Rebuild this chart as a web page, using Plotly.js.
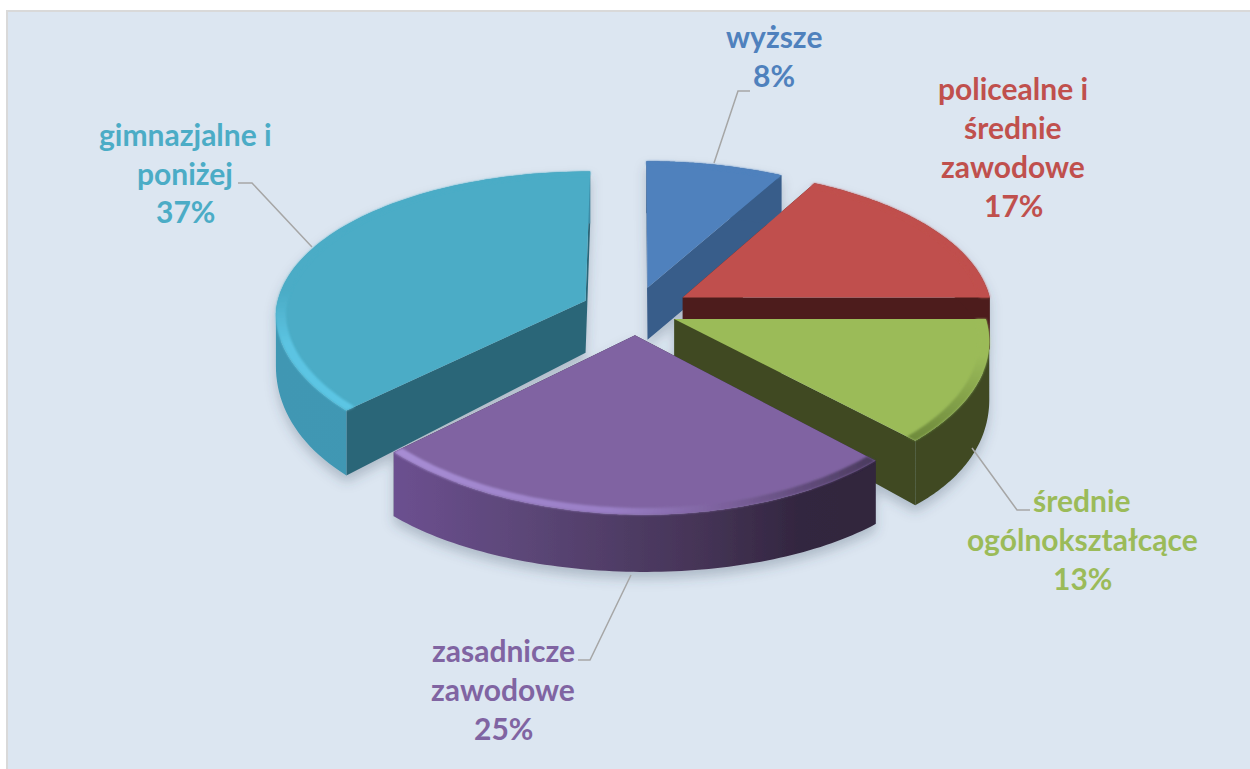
<!DOCTYPE html>
<html>
<head>
<meta charset="utf-8">
<script src="https://cdn.plot.ly/plotly-3.0.1.min.js"></script>
<style>html,body{margin:0;padding:0;background:#fff;overflow:hidden}#chart{width:1250px;height:769px}</style>
</head>
<body>
<div id="chart"></div>
<script>
// ---- data ----
const categories = ['wyższe', 'policealne i średnie zawodowe', 'średnie ogólnokształcące', 'zasadnicze zawodowe', 'gimnazjalne i poniżej'];
const percentages = [8, 17, 13, 25, 37];
const topColors = ['#4f81bd', '#c0504d', '#9bbb59', '#8064a2', '#4bacc6'];
const innerWallColors = ['#385d8a', '#4d1f1e', '#3f4a22', '#32263f', '#2c6678'];
const labelLines = [['wyższe'], ['policealne i', 'średnie', 'zawodowe'], ['średnie', 'ogólnokształcące'], ['zasadnicze', 'zawodowe'], ['gimnazjalne i', 'poniżej']];

// ---- layout settings ----
const W = 1250, H = 769, WORLD_R = 310, RIM = 0.968;
const slicePull = [0.165, 0.18, 0.135, 0.16, 0.175];
const CAM = {cx: 635, a: 311, b: 0.48, c: 0.000424, cx2: 0.000334, shear: 0.031, depth: 52, swell: 0.25, swellSpan: 415};
const labelCentres = [[774, 36, 39], [1013, 88, 39], [1082, 500, 39], [503, 650, 39], [185, 134, 38.5]];
const leaders = [
  [[714,163],[738,91],[750,91]],
  [[972,448],[1017,510],[1030,510]],
  [[631,575],[590,660],[578,660]],
  [[312,247],[252,183],[238,183]]
];
const FONT = 'Lato, "Open Sans", sans-serif', FONT_SIZE = 30;
const fx = x => x / W, fy = y => 1 - y / H;

function pieTrace(colors, hole) {
  return {type: 'pie', values: percentages, labels: categories, sort: false, direction: 'clockwise', rotation: 0,
    pull: slicePull, hole: hole, textinfo: 'none', hoverinfo: 'none', showlegend: false,
    marker: {colors: colors, line: {width: 0}}, domain: {x: [0, 1], y: [0, 1]}};
}
const traces = [pieTrace(innerWallColors, 0), pieTrace(innerWallColors, RIM), pieTrace(topColors, 0), pieTrace(topColors, RIM)];
const traceKinds = ['inner', 'wall', 'top', 'rim'];

const annotations = [];
labelLines.forEach((lines, i) => {
  const c = labelCentres[i];
  lines.concat([percentages[i] + '%']).forEach((t, j) => {
    annotations.push({text: '<b>' + t + '</b>', xref: 'paper', yref: 'paper', x: fx(c[0]), y: fy(c[1] + j * c[2]),
      xanchor: 'center', yanchor: 'middle', showarrow: false, font: {family: FONT, size: FONT_SIZE, color: topColors[i]}});
  });
});

const shapes = [{type: 'rect', xref: 'paper', yref: 'paper', x0: fx(7), x1: 1.01, y0: -0.01, y1: fy(11), fillcolor: '#dce6f1', line: {color: '#d9d9d9', width: 2}, layer: 'below'}];
leaders.forEach(pts => shapes.push({type: 'path', xref: 'paper', yref: 'paper', layer: 'above',
  path: pts.map((p, i) => (i ? 'L' : 'M') + fx(p[0]) + ',' + fy(p[1])).join(' '), line: {color: '#a6a6a6', width: 1.5}}));

const layout = {width: W, height: H, margin: {l: 0, r: 0, t: 0, b: 0, pad: 0}, paper_bgcolor: '#ffffff', showlegend: false, annotations, shapes};

// camera: flat pie plane (X right, Y towards viewer) -> screen; low = point on the lower face of the disc
function camera(X, Y, low) {
  const clampY = Math.min(Math.max(Y, 0), CAM.swellSpan);
  const z = low ? CAM.depth * (1 + CAM.swell * Math.sin(Math.PI * clampY / CAM.swellSpan)) : 0;
  return [CAM.cx + X / (1 - CAM.cx2 * Y) + CAM.shear * Math.max(Y, 0), CAM.a + CAM.b * Y / (1 - CAM.c * Y) + z];
}
const NS = 'http://www.w3.org/2000/svg';
function makeGradient(defs, id, vertical, stops) {
  const g = document.createElementNS(NS, 'linearGradient');
  g.setAttribute('id', id); g.setAttribute('x1', 0); g.setAttribute('y1', 0);
  g.setAttribute('x2', vertical ? 0 : 1); g.setAttribute('y2', vertical ? 1 : 0);
  stops.forEach(([o, c]) => { const s = document.createElementNS(NS, 'stop'); s.setAttribute('offset', o); s.setAttribute('stop-color', c); g.appendChild(s); });
  defs.appendChild(g);
}
const toPath = pts => pts.map((p, i) => (i ? 'L' : 'M') + p[0].toFixed(2) + ' ' + p[1].toFixed(2)).join('') + 'Z';
// same winding for every quad so the union fills under the nonzero rule
function quad(a, b, c, d) {
  const pts = [a, b, c, d];
  let area = 0;
  for (let i = 0; i < 4; i++) { const p = pts[i], q = pts[(i + 1) % 4]; area += p[0] * q[1] - q[0] * p[1]; }
  return toPath(area < 0 ? pts.reverse() : pts);
}

Plotly.newPlot('chart', traces, layout, {staticPlot: true, displayModeBar: false}).then(gd => {
  const layer = gd.querySelector('.pielayer');
  const svg = layer.ownerSVGElement;
  const defs = document.createElementNS(NS, 'defs'); svg.insertBefore(defs, svg.firstChild);
  makeGradient(defs, 'wall3', false, [[0, '#6c5090'], [0.3, '#5a4575'], [0.65, '#443355'], [0.85, '#32263f'], [1, '#30253d']]);
  makeGradient(defs, 'wall4', false, [[0, '#4097b3'], [0.5, '#3f98b4'], [1, '#3c8ca6']]);
  makeGradient(defs, 'rim2', true, [[0, '#9bbb59'], [0.3, '#9bbb59'], [1, '#6e8a3c']]);
  makeGradient(defs, 'rim3', false, [[0, '#a78dd4'], [0.45, '#9a7fc6'], [0.7, '#7a5f9a'], [1, '#4a3a5e']]);
  makeGradient(defs, 'rim4', true, [[0, '#4bacc6'], [0.5, '#4bacc6'], [0.72, '#5cc4e2'], [1, '#5cc6e4']]);
  const f = document.createElementNS(NS, 'filter');
  f.setAttribute('id', 'softShadow'); f.setAttribute('filterUnits', 'userSpaceOnUse');
  f.setAttribute('x', 0); f.setAttribute('y', 0); f.setAttribute('width', W); f.setAttribute('height', H);
  const ds = document.createElementNS(NS, 'feDropShadow');
  ds.setAttribute('dx', 0); ds.setAttribute('dy', 7); ds.setAttribute('stdDeviation', 6); ds.setAttribute('flood-color', '#3c4a60'); ds.setAttribute('flood-opacity', 0.28);
  f.appendChild(ds); defs.appendChild(f);
  const b = document.createElementNS(NS, 'filter');
  b.setAttribute('id', 'rimBlur'); b.setAttribute('filterUnits', 'userSpaceOnUse');
  b.setAttribute('x', 0); b.setAttribute('y', 0); b.setAttribute('width', W); b.setAttribute('height', H);
  const gb = document.createElementNS(NS, 'feGaussianBlur'); gb.setAttribute('stdDeviation', 1.3);
  b.appendChild(gb); defs.appendChild(b);
  layer.setAttribute('filter', 'url(#softShadow)');

  layer.querySelectorAll('g.trace').forEach((g, ti) => {
    const kind = traceKinds[ti], cd = gd.calcdata[ti], r0 = cd[0], k = WORLD_R / r0.r;
    if (kind === 'rim') g.setAttribute('filter', 'url(#rimBlur)');
    g.querySelectorAll('g.slice').forEach((sl, si) => {
      const pt = cd[si], ox = slicePull[si] * pt.pxmid[0] * k, oy = slicePull[si] * pt.pxmid[1] * k;
      const a0 = Math.atan2(pt.px0[0], -pt.px0[1]);
      let a1 = Math.atan2(pt.px1[0], -pt.px1[1]);
      if (a1 <= a0) a1 += 2 * Math.PI;
      const arc = (rad, low) => {
        const out = [];
        for (let n = 0; n <= 80; n++) {
          const a = a0 + (a1 - a0) * n / 80;
          out.push(camera(ox + rad * Math.sin(a), oy - rad * Math.cos(a), low));
        }
        return out;
      };
      const apexTop = camera(ox, oy, false), apexLow = camera(ox, oy, true);
      const outerTop = arc(WORLD_R, false), outerLow = arc(WORLD_R, true);
      let d;
      if (kind === 'top') d = toPath([apexTop].concat(outerTop));
      else if (kind === 'rim') d = toPath(outerTop.concat(arc(WORLD_R * RIM, false).reverse()));
      else if (kind === 'wall') {
        d = '';
        for (let n = 0; n < 80; n++) d += quad(outerTop[n], outerTop[n + 1], outerLow[n + 1], outerLow[n]);
      } else d = quad(apexTop, outerTop[0], outerLow[0], apexLow) + quad(apexTop, outerTop[80], outerLow[80], apexLow);
      const path = sl.querySelector('path');
      path.setAttribute('d', d);
      if (kind === 'wall' && si >= 3) path.style.fill = `url(#wall${si})`;
      if (kind === 'rim' && si >= 2) path.style.fill = `url(#rim${si})`;
    });
  });
});
</script>
</body>
</html>
